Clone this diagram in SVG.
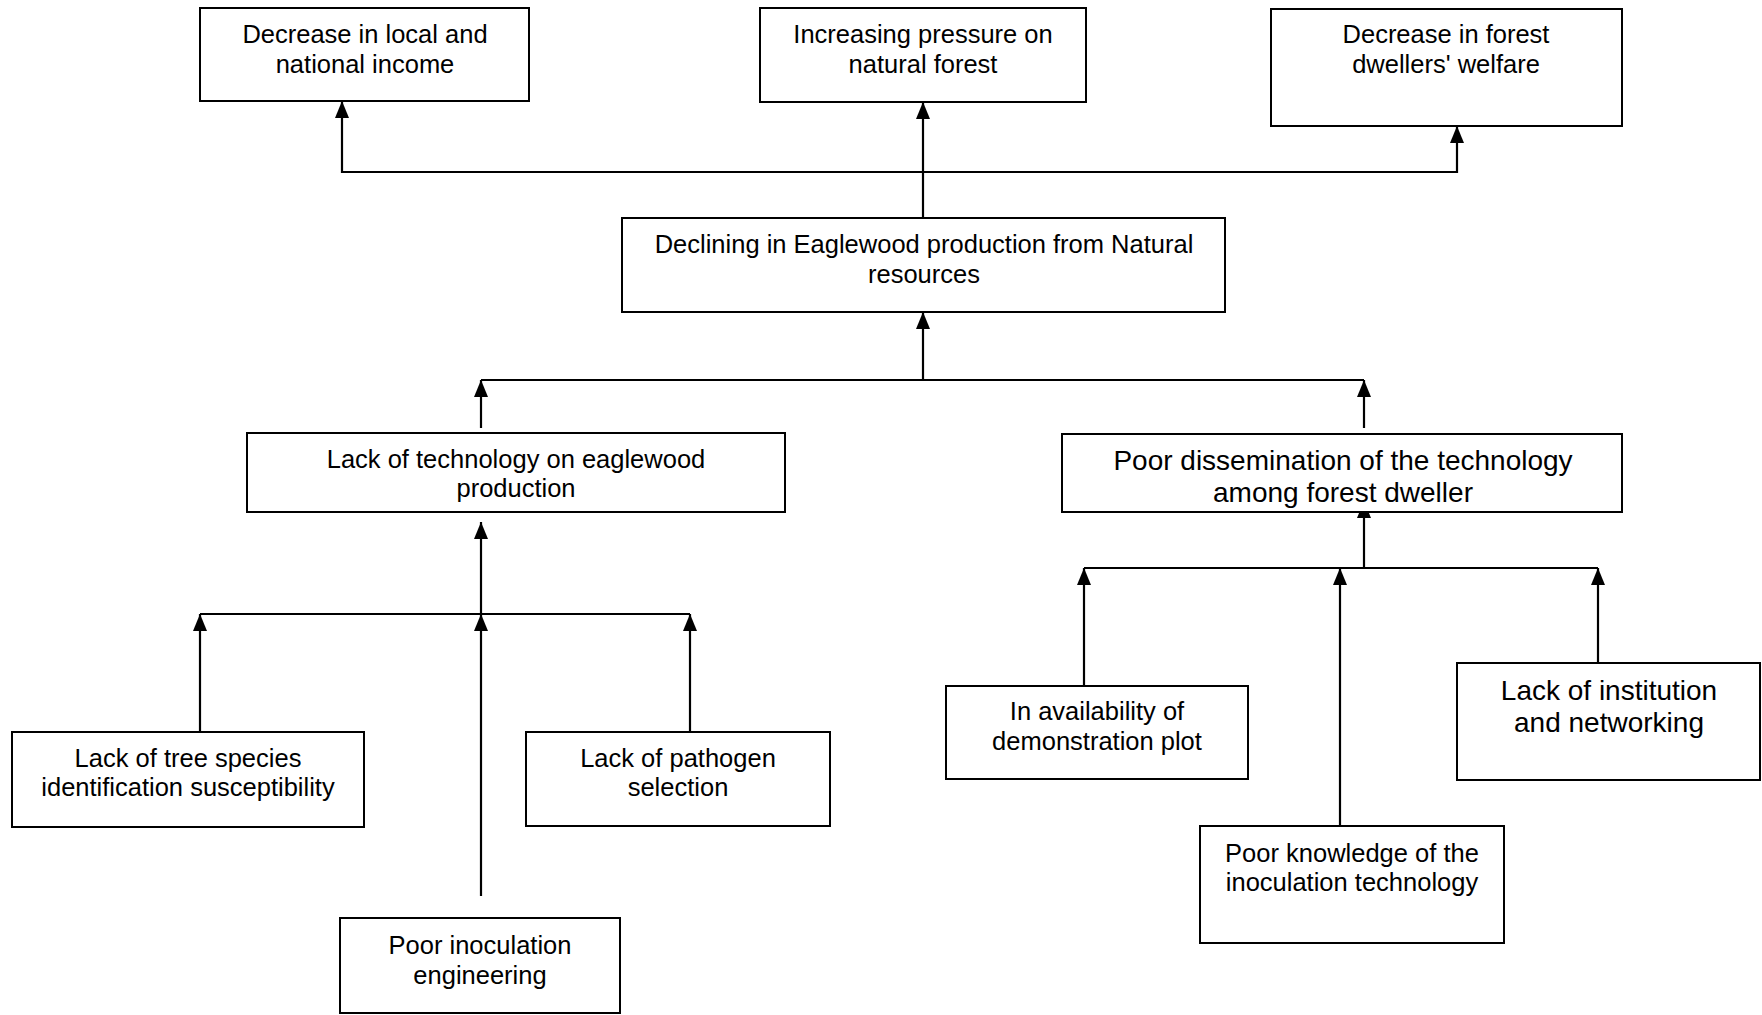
<svg xmlns="http://www.w3.org/2000/svg" width="1762" height="1015" viewBox="0 0 1762 1015">
<style>
.box{fill:#fff;stroke:#000;stroke-width:2}
.t{font-family:"Liberation Sans",Arial,sans-serif;font-size:25.5px;fill:#000;text-anchor:middle}
.tl{font-size:28px}
.c{fill:none;stroke:#000;stroke-width:2.2}
.a{marker-end:url(#ah)}
</style>
<defs>
<marker id="ah" markerUnits="userSpaceOnUse" markerWidth="17" markerHeight="14" refX="17" refY="7" orient="auto">
<path d="M0,0 L17,7 L0,14 z" fill="#000"/>
</marker>
</defs>
<rect width="1762" height="1015" fill="#fff"/>
<g id="connectors">
<path class="c a" d="M923,218 V102"/>
<path class="c a" d="M923,172 H342 V101"/>
<path class="c a" d="M923,172 H1457 V126"/>
<path class="c a" d="M923,380 V312"/>
<path class="c" d="M481,380 H1364"/>
<path class="c a" d="M481,428 V380"/>
<path class="c a" d="M1364,428 V380"/>
<path class="c a" d="M481,614 V522"/>
<path class="c" d="M200,614 H690"/>
<path class="c a" d="M200,732 V614"/>
<path class="c a" d="M690,732 V614"/>
<path class="c a" d="M481,896 V614"/>
<path class="c a" d="M1364,568 V501"/>
<path class="c" d="M1084,568 H1598"/>
<path class="c a" d="M1084,686 V568"/>
<path class="c a" d="M1340,826 V568"/>
<path class="c a" d="M1598,663 V568"/>
</g>
<g id="nodeA"><rect class="box" x="200" y="8" width="329" height="93"/><text class="t" x="365" y="43">Decrease in local and</text><text class="t" x="365" y="73">national income</text></g>
<g id="nodeB"><rect class="box" x="760" y="8" width="326" height="94"/><text class="t" x="923" y="43">Increasing pressure on</text><text class="t" x="923" y="73">natural forest</text></g>
<g id="nodeC"><rect class="box" x="1271" y="9" width="351" height="117"/><text class="t" x="1446" y="43">Decrease in forest</text><text class="t" x="1446" y="73">dwellers' welfare</text></g>
<g id="nodeD"><rect class="box" x="622" y="218" width="603" height="94"/><text class="t" x="924" y="253">Declining in Eaglewood production from Natural</text><text class="t" x="924" y="283">resources</text></g>
<g id="nodeE"><rect class="box" x="247" y="433" width="538" height="79"/><text class="t" x="516" y="468">Lack of technology on eaglewood</text><text class="t" x="516" y="497">production</text></g>
<g id="nodeF"><rect class="box" x="1062" y="434" width="560" height="78"/><text class="t tl" x="1343" y="470">Poor dissemination of the technology</text><text class="t tl" x="1343" y="502">among forest dweller</text></g>
<g id="nodeG"><rect class="box" x="12" y="732" width="352" height="95"/><text class="t" x="188" y="767">Lack of tree species</text><text class="t" x="188" y="796">identification susceptibility</text></g>
<g id="nodeH"><rect class="box" x="526" y="732" width="304" height="94"/><text class="t" x="678" y="767">Lack of pathogen</text><text class="t" x="678" y="796">selection</text></g>
<g id="nodeI"><rect class="box" x="340" y="918" width="280" height="95"/><text class="t" x="480" y="954">Poor inoculation</text><text class="t" x="480" y="984">engineering</text></g>
<g id="nodeJ"><rect class="box" x="946" y="686" width="302" height="93"/><text class="t" x="1097" y="720">In availability of</text><text class="t" x="1097" y="750">demonstration plot</text></g>
<g id="nodeK"><rect class="box" x="1200" y="826" width="304" height="117"/><text class="t" x="1352" y="862">Poor knowledge of the</text><text class="t" x="1352" y="891">inoculation technology</text></g>
<g id="nodeL"><rect class="box" x="1457" y="663" width="303" height="117"/><text class="t tl" x="1609" y="700">Lack of institution</text><text class="t tl" x="1609" y="732">and networking</text></g>
</svg>
